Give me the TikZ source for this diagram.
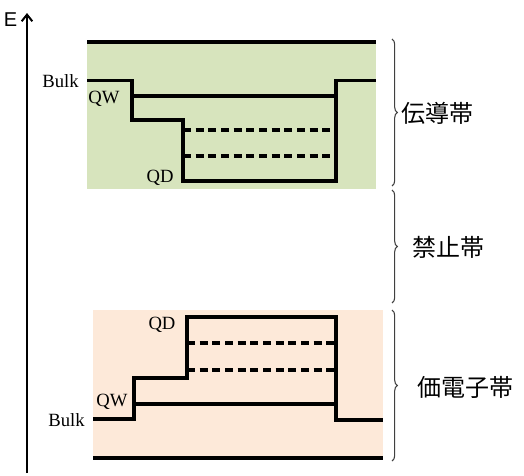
\documentclass[tikz,border=0pt]{standalone}
\usepackage{fontspec}
\setmainfont{Liberation Serif}
\newfontfamily\jpfont{Noto Sans CJK JP}
\newfontfamily\efont{Liberation Sans}
\usetikzlibrary{decorations.pathreplacing,arrows.meta}
\definecolor{cbgreen}{HTML}{D7E4BD}
\definecolor{vborange}{HTML}{FDE9D9}
\definecolor{bracegray}{HTML}{404040}
\tikzset{
  level/.style={line width=2.3pt},
  sublevel/.style={line width=2.3pt, dash pattern=on 6pt off 3.5pt},
  smalllabel/.style={font=\fontsize{14}{14}\selectfont, inner sep=0pt},
  bandlabel/.style={font=\jpfont\fontsize{18}{18}\selectfont, inner sep=0pt},
  bandbrace/.style={draw=bracegray, line width=0.8pt, decorate, decoration={brace, amplitude=4pt}},
}
\begin{document}
\begin{tikzpicture}[x=0.75pt, y=-0.75pt]
\useasboundingbox (0,0) rectangle (524,475);
% axis
\coordinate (axbot) at (27,473);
\coordinate (axtop) at (27,13);
\draw[line width=1.5pt, -{Straight Barb[length=5pt,width=8pt]}] (axbot) -- (axtop);
\node[font=\efont\fontsize{15}{15}\selectfont, inner sep=0pt] (E) at (10.5,20) {E};
% conduction band
\fill[cbgreen] (87,40) rectangle (376,189);
\draw[level] (87,42) -- (376,42);
\draw[level] (87,80.5) -- (132,80.5) -- (132,120) -- (183,120) -- (183,181) -- (336,181) -- (336,80.5) -- (376,80.5);
\draw[level] (132,96) -- (336,96);
\draw[sublevel] (183,130) -- (336,130);
\draw[sublevel] (183,156) -- (336,156);
\node[smalllabel, anchor=east] (bulkc) at (79,81) {Bulk};
\node[smalllabel] (qwc) at (104,99) {QW};
\node[smalllabel] (qdc) at (160,178) {QD};
% valence band
\fill[vborange] (93,310) rectangle (383,460);
\draw[level] (93,458) -- (383,458);
\draw[level] (93,419) -- (134,419) -- (134,378) -- (187,378) -- (187,317) -- (336,317) -- (336,420) -- (383,420);
\draw[level] (134,404) -- (336,404);
\draw[sublevel] (187,343) -- (336,343);
\draw[sublevel] (187,370) -- (336,370);
\node[smalllabel, anchor=east] (bulkv) at (85,420) {Bulk};
\node[smalllabel] (qwv) at (112,402) {QW};
\node[smalllabel] (qdv) at (162,325) {QD};
% braces
\coordinate (b1t) at (392,39);
\coordinate (b1b) at (392,186);
\coordinate (b2t) at (392,190);
\coordinate (b2b) at (392,303);
\coordinate (b3t) at (392,310);
\coordinate (b3b) at (392,461);
\draw[bandbrace] (b1t) -- (b1b);
\draw[bandbrace] (b2t) -- (b2b);
\draw[bandbrace] (b3t) -- (b3b);
\node[bandlabel] (cb) at (437,113) {伝導帯};
\node[bandlabel] (gap) at (448,247) {禁止帯};
\node[bandlabel] (vb) at (465,387) {価電子帯};
\end{tikzpicture}
\end{document}
